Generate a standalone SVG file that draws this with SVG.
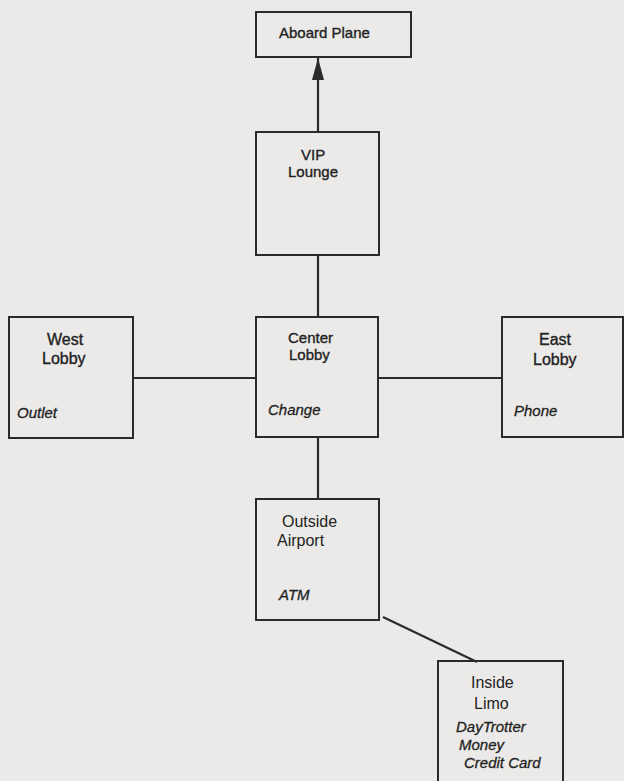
<svg xmlns="http://www.w3.org/2000/svg" width="624" height="781" viewBox="0 0 624 781">
<style>
.box{fill:none;stroke:#2b2b2b;stroke-width:2}
.edge{stroke:#2b2b2b;stroke-width:2.2;fill:none}
.lbl{font-family:"Liberation Sans",Arial,sans-serif;font-size:16px;fill:#222;stroke:#222;stroke-width:0.35}
.tight{font-size:15px}
.lbl2{font-family:"Liberation Sans",Arial,sans-serif;font-size:16px;fill:#222}
.item{font-family:"Liberation Sans",Arial,sans-serif;font-size:15px;font-style:italic;fill:#222;stroke:#222;stroke-width:0.3}
</style>
<defs>
<marker id="arr" markerWidth="22" markerHeight="12" refX="22" refY="6" orient="auto" markerUnits="userSpaceOnUse" viewBox="0 0 22 12">
<path d="M0,0 L22,6 L0,12 Z" fill="#2b2b2b"/>
</marker>
</defs>
<rect width="624" height="781" fill="#ebeae8"/>
<g id="connectors">
<line class="edge" x1="318" y1="132" x2="318" y2="58" marker-end="url(#arr)"/>
<line class="edge" x1="318" y1="255" x2="318" y2="317"/>
<line class="edge" x1="133" y1="378" x2="256" y2="378"/>
<line class="edge" x1="378" y1="378" x2="502" y2="378"/>
<line class="edge" x1="318" y1="437" x2="318" y2="499"/>
<line class="edge" x1="383" y1="617" x2="477" y2="662"/>
</g>
<g id="aboard-plane">
<rect class="box" x="256" y="12" width="155" height="45"/>
<text class="lbl" x="279" y="38" style="font-size:15px">Aboard Plane</text>
</g>
<g id="vip-lounge">
<rect class="box" x="256" y="132" width="123" height="123"/>
<text class="lbl tight" x="301" y="160">VIP</text>
<text class="lbl tight" x="288" y="177">Lounge</text>
</g>
<g id="west-lobby">
<rect class="box" x="9" y="317" width="124" height="121"/>
<text class="lbl" x="47" y="345">West</text>
<text class="lbl" x="42" y="364">Lobby</text>
<text class="item" x="17" y="418">Outlet</text>
</g>
<g id="center-lobby">
<rect class="box" x="256" y="317" width="122" height="120"/>
<text class="lbl tight" x="288" y="343">Center</text>
<text class="lbl tight" x="289" y="360">Lobby</text>
<text class="item" x="268" y="415">Change</text>
</g>
<g id="east-lobby">
<rect class="box" x="502" y="317" width="121" height="120"/>
<text class="lbl" x="539" y="345">East</text>
<text class="lbl" x="533" y="365">Lobby</text>
<text class="item" x="514" y="416">Phone</text>
</g>
<g id="outside-airport">
<rect class="box" x="256" y="499" width="123" height="121"/>
<text class="lbl2" x="282" y="527">Outside</text>
<text class="lbl2" x="277" y="546">Airport</text>
<text class="item" x="279" y="600">ATM</text>
</g>
<g id="inside-limo">
<rect class="box" x="438" y="661" width="125" height="130"/>
<text class="lbl2" x="471" y="688">Inside</text>
<text class="lbl2" x="474" y="709">Limo</text>
<text class="item" x="456" y="732">DayTrotter</text>
<text class="item" x="459" y="750">Money</text>
<text class="item" x="464" y="768">Credit Card</text>
</g>
</svg>
